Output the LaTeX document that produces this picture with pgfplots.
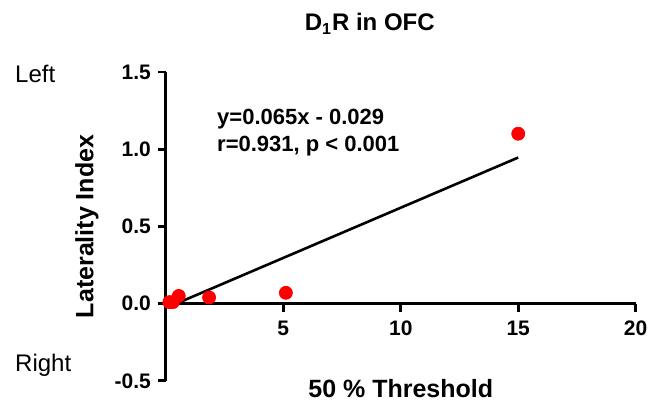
\documentclass[border=0pt]{standalone}
\usepackage{fontspec}
\setmainfont{Liberation Sans}
\usepackage{pgfplots}
\pgfplotsset{compat=1.18}

% D1R in OFC: laterality index vs threshold
\pgfplotstableread{
x     y
0.15  0.010
0.30  0.010
0.55  0.050
1.84  0.040
5.11  0.070
15.0  1.100
}\pointdata

\begin{document}
\begin{tikzpicture}
\begin{axis}[
    scale only axis,
    width=235pt, height=154.5pt,
    xmin=0, xmax=20,
    ymin=-0.5, ymax=1.5,
    axis x line=middle,
    axis y line=left,
    x axis line style={-, line width=1.4pt},
    y axis line style={-, line width=1.4pt},
    xtick={5,10,15,20},
    ytick={-0.5,0,0.5,1,1.5},
    yticklabels={-0.5,0.0,0.5,1.0,1.5},
    tick align=outside,
    xtick align=outside,
    major tick length=4pt,
    tick style={line width=1.4pt, black},
    ticklabel style={font=\fontsize{10.5}{12}\selectfont\bfseries},
    /pgf/number format/assume math mode=true,
    x tick label style={yshift=-1pt},
    xlabel={50 \% Threshold},
    ylabel={Laterality Index},
    every axis x label/.style={at={(axis description cs:0.5,-0.026)}, anchor=center,
        font=\fontsize{12.5}{14}\selectfont\bfseries},
    every axis y label/.style={at={(axis description cs:-0.168,0.5)}, rotate=90, anchor=center,
        font=\fontsize{12.5}{14}\selectfont\bfseries},
    clip=false,
]
% points
\addplot[only marks, mark=*, mark size=3.25pt, color=red, fill=red] table[x=x, y=y] {\pointdata};
% regression line y=0.065x-0.029
\addplot[black, line width=1.3pt] coordinates {(0.2,-0.016) (15,0.946)};

\node[anchor=base, font=\fontsize{12}{14}\selectfont\bfseries] at (axis cs:8.68,1.768) {D$_{\mathbf{1}}$R in OFC};
\node[anchor=base west, font=\fontsize{11}{13}\selectfont\bfseries, inner sep=0pt] at (axis cs:2.17,1.16) {y=0.065x - 0.029};
\node[anchor=base west, font=\fontsize{11}{13}\selectfont\bfseries, inner sep=0pt] at (axis cs:2.17,0.985) {r=0.931, p < 0.001};
\node[anchor=west, font=\fontsize{12}{14}\selectfont, inner sep=0pt] at (axis cs:-6.43,1.49) {Left};
\node[anchor=west, font=\fontsize{12}{14}\selectfont, inner sep=0pt] at (axis cs:-6.43,-0.4) {Right};
\path (rel axis cs:-0.353,1.233) rectangle (rel axis cs:1.038,-0.078);
\end{axis}
\end{tikzpicture}
\end{document}
